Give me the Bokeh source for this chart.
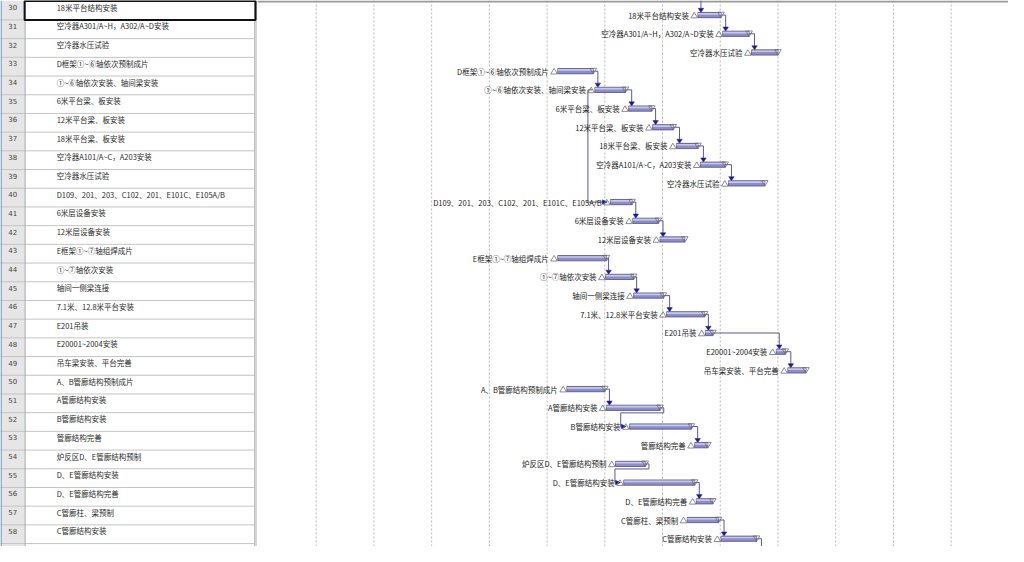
from bokeh.plotting import figure
from bokeh.layouts import row
from bokeh.models import Range1d, ColumnDataSource
from bokeh.core.properties import value
from bokeh.embed import file_html
from bokeh.resources import INLINE

# ---------------- data ----------------
task_ids = list(range(30, 59))
task_names = [
    "18米平台结构安装",
    "空冷器A301/A~H，A302/A~D安装",
    "空冷器水压试验",
    "D框架①~⑥轴依次预制成片",
    "①~⑥轴依次安装、轴间梁安装",
    "6米平台梁、板安装",
    "12米平台梁、板安装",
    "18米平台梁、板安装",
    "空冷器A101/A~C，A203安装",
    "空冷器水压试验",
    "D109、201、203、C102、201、E101C、E105A/B",
    "6米层设备安装",
    "12米层设备安装",
    "E框架①~⑦轴组焊成片",
    "①~⑦轴依次安装",
    "轴间一侧梁连接",
    "7.1米、12.8米平台安装",
    "E201吊装",
    "E20001~2004安装",
    "吊车梁安装、平台完善",
    "A、B管廊结构预制成片",
    "A管廊结构安装",
    "B管廊结构安装",
    "管廊结构完善",
    "炉反区D、E管廊结构预制",
    "D、E管廊结构安装",
    "D、E管廊结构完善",
    "C管廊柱、梁预制",
    "C管廊结构安装",
]
# start / finish in days from the left edge of the visible timescale
start_day = [53.3, 56.3, 59.8, 36.3, 40.8, 44.9, 47.8, 50.7, 53.6, 57.0,
             42.7, 45.4, 48.7, 36.3, 42.1, 45.5, 49.5, 54.2, 62.8, 64.2,
             37.4, 42.2, 45.0, 52.9, 43.3, 44.3, 53.1, 52.0, 56.1]
finish_day = [56.1, 59.5, 63.0, 40.6, 44.5, 47.7, 50.3, 53.3, 56.6, 61.4,
              45.3, 48.5, 51.7, 42.2, 45.5, 49.1, 54.1, 55.1, 63.9, 66.4,
              42.0, 48.7, 52.5, 54.5, 46.9, 52.9, 55.1, 55.8, 60.4]
# finish-to-start links (predecessor, successor)
fs_links = [(30, 31), (31, 32), (33, 34), (34, 35), (35, 36), (36, 37), (37, 38),
            (38, 39), (40, 41), (41, 42), (43, 44), (44, 45), (45, 46), (46, 47),
            (47, 48), (48, 49), (50, 51), (51, 52), (52, 53), (54, 55), (55, 56),
            (57, 58)]
# start-to-start links
ss_links = [(34, 40)]
incoming_from_above = [30]
outgoing_below = [58]
week_lines = [7, 14, 21, 28, 35, 42, 49, 56, 63, 70, 77, 84]

# ---------------- layout constants ----------------
Y_TOP, Y_BOT = 29.961, 59.156
BAR_Y = 0.74
BAR_H = 0.28
ARR_H = 0.22
FONT = value("Noto Sans CJK SC")
FS = "7.5px"

idx = {t: i for i, t in enumerate(task_ids)}


def yc(t):
    return t + BAR_Y


# ---------------- table figure ----------------
tbl = figure(width=257, height=546, x_range=Range1d(0, 261), y_range=Range1d(Y_BOT, Y_TOP),
             toolbar_location=None, output_backend="svg", min_border=0)
tbl.axis.visible = False
tbl.grid.visible = False
tbl.outline_line_color = None
tbl.background_fill_color = "white"

tbl.quad(left=[0], right=[25], top=[Y_TOP], bottom=[Y_BOT], fill_color="#E6E6E6", line_color=None)
row_tops = list(range(31, 60))
tbl.segment(x0=[0] * len(row_tops), x1=[258] * len(row_tops), y0=row_tops, y1=row_tops,
            line_color="#C4C4C4", line_width=1)
tbl.segment(x0=[25, 258], x1=[25, 258], y0=[Y_TOP, Y_TOP], y1=[Y_BOT, Y_BOT],
            line_color="#A8A8A8", line_width=1)
tbl.quad(left=[258], right=[261], top=[Y_TOP], bottom=[Y_BOT], fill_color="#D6D6D6", line_color=None)
tbl.segment(x0=[0.6], x1=[0.6], y0=[Y_TOP], y1=[Y_BOT], line_color="#5A82BE", line_width=1)

tsrc = ColumnDataSource(dict(
    num=[str(t) for t in task_ids],
    name=task_names,
    y=[t + 0.32 for t in task_ids],
))
tbl.text(x=12.5, y="y", text="num", source=tsrc, text_font=value("DejaVu Sans"),
         text_font_size="7px", text_align="center", text_baseline="middle", text_color="#444444")
tbl.text(x=57, y="y", text="name", source=tsrc, text_font=FONT, text_font_size=FS,
         text_align="left", text_baseline="middle", text_color="#2A2A2A")
# selected cell
sel = task_ids[0]
tbl.quad(left=[24.5], right=[259], top=[sel - 0.01], bottom=[sel + 1], fill_alpha=0,
         line_color="#111111", line_width=2)

# ---------------- gantt figure ----------------
g = figure(width=751, height=546, x_range=Range1d(-0.12, 90.96), y_range=Range1d(Y_BOT, Y_TOP),
           toolbar_location=None, output_backend="svg", min_border=0)
g.axis.visible = False
g.grid.visible = False
g.outline_line_color = None
g.background_fill_color = "white"

g.segment(x0=week_lines, x1=week_lines, y0=[Y_TOP] * len(week_lines), y1=[Y_BOT] * len(week_lines),
          line_color="#B8B8B8", line_width=1, line_dash="2 2")
g.segment(x0=[-0.12], x1=[90.96], y0=[Y_TOP + 0.05], y1=[Y_TOP + 0.05], line_color="#9A9A9A", line_width=2)

# connectors
line_xs, line_ys = [], []
arr_xs, arr_ys = [], []


def down_arrow(a, ytip):
    arr_xs.append([a, a - 0.33, a + 0.33])
    arr_ys.append([ytip, ytip - ARR_H, ytip - ARR_H])


def right_arrow(s, y):
    arr_xs.append([s - 0.4, s - 1.0, s - 1.0])
    arr_ys.append([y, y - 0.12, y + 0.12])


for p_, s_ in fs_links:
    e = finish_day[idx[p_]]
    s = start_day[idx[s_]]
    yp, ys = yc(p_), yc(s_)
    a = s + 0.36
    if a >= e + 0.2:
        ytip = ys - BAR_H / 2
        line_xs.append([e, a, a])
        line_ys.append([yp, yp, ytip - ARR_H])
        down_arrow(a, ytip)
    else:
        xr = e + 0.45
        xv = s - 1.07
        ymid = yp + 0.27
        line_xs.append([e, xr, xr, xv, xv, s - 1.0])
        line_ys.append([yp, yp, ymid, ymid, ys, ys])
        right_arrow(s, ys)

for p_, s_ in ss_links:
    sp = start_day[idx[p_]]
    s = start_day[idx[s_]]
    yp, ys = yc(p_), yc(s_)
    xv = sp - 0.85
    line_xs.append([sp - 0.3, xv, xv, s - 1.0])
    line_ys.append([yp, yp, ys, ys])
    right_arrow(s, ys)

for t in incoming_from_above:
    a = start_day[idx[t]] + 0.36
    ytip = yc(t) - BAR_H / 2
    line_xs.append([a, a])
    line_ys.append([Y_TOP, ytip - ARR_H])
    down_arrow(a, ytip)

for t in outgoing_below:
    e = finish_day[idx[t]]
    line_xs.append([e, e + 0.6, e + 0.6])
    line_ys.append([yc(t), yc(t), Y_BOT])

g.multi_line(xs=line_xs, ys=line_ys, line_color="#5A5A8E", line_width=1)
g.patches(xs=arr_xs, ys=arr_ys, fill_color="#1C1C8A", line_color="#1C1C8A", line_width=0.5)

# bars
bsrc = ColumnDataSource(dict(
    s=start_day, e=finish_day,
    top=[yc(t) - BAR_H / 2 for t in task_ids],
    bot=[yc(t) + BAR_H / 2 for t in task_ids],
    st=[yc(t) - BAR_H / 2 + 0.03 for t in task_ids],
    sb=[yc(t) - 0.02 for t in task_ids],
    y=[yc(t) for t in task_ids],
    name=task_names,
))
g.quad(left="s", right="e", top="top", bottom="bot", source=bsrc,
       fill_color="#8E8EC6", line_color="#4C4C88", line_width=0.8)
g.quad(left="s", right="e", top="st", bottom="sb", source=bsrc,
       fill_color="#C8C8E8", line_color=None)

# start / finish marks
st_xs, st_ys, en_xs, en_ys = [], [], [], []
for s, e, t in zip(start_day, finish_day, task_ids):
    y = yc(t)
    st_xs.append([s - 0.85, s - 0.05, s - 0.45])
    st_ys.append([y + 0.15, y + 0.15, y - 0.15])
    en_xs.append([e - 0.4, e + 0.4, e])
    en_ys.append([y - 0.15, y - 0.15, y + 0.15])
g.patches(xs=st_xs, ys=st_ys, fill_alpha=0, line_color="#6E6E6E", line_width=0.8)
g.patches(xs=en_xs, ys=en_ys, fill_alpha=0, line_color="#6E6E6E", line_width=0.8)

g.text(x="s", y="y", text="name", source=bsrc, text_font=FONT, text_font_size=FS,
       text_align="right", text_baseline="middle", x_offset=-9, text_color="#222222")

layout = row(tbl, g, spacing=0)
open("out.html", "w").write(file_html(layout, INLINE))
